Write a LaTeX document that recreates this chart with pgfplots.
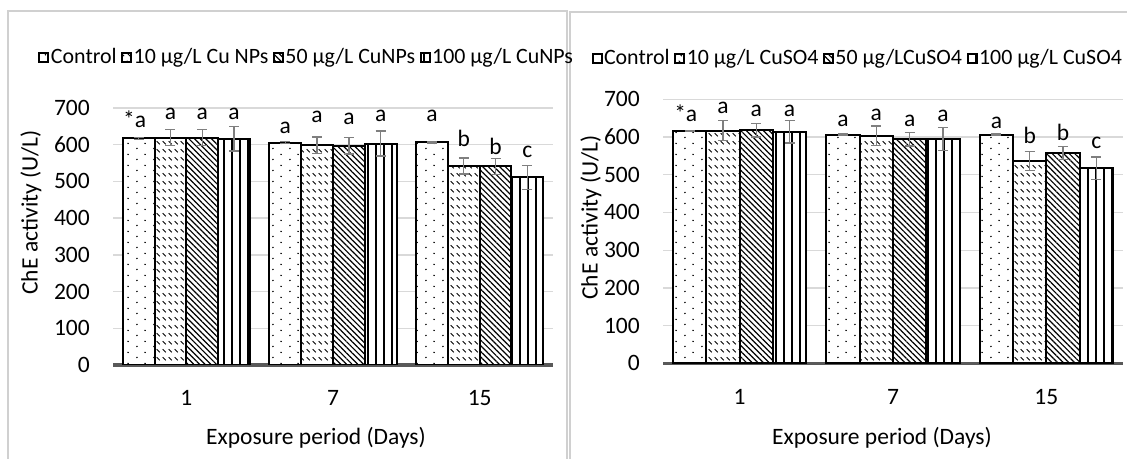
\documentclass[border=0pt]{standalone}
\usepackage{fontspec}
\setmainfont{Carlito}
\usepackage{pgfplots}
\usepackage{pgfplotstable}
\pgfplotsset{compat=1.18}
\usetikzlibrary{patterns,patterns.meta}

\definecolor{gridgray}{HTML}{D9D9D9}
\definecolor{axisgray}{HTML}{595959}
\definecolor{errgray}{HTML}{7F7F7F}
\definecolor{framegray}{HTML}{D0D0D0}

\newcommand\axfont{\fontsize{23.5bp}{28bp}\selectfont}
\newcommand\legfont{\fontsize{21.9bp}{26bp}\selectfont}

% staggered dots (control)
\tikzdeclarepattern{
  name=sparsedots,
  type=uncolored,
  bottom left={(0bp,0bp)},
  top right={(16.6bp,11bp)},
  tile size={(16.6bp,11bp)},
  code={\fill (4bp,2.75bp) circle (0.9bp); \fill (12.3bp,8.25bp) circle (0.9bp);}
}
% short dashed downward diagonal (10 ug/L)
\tikzdeclarepattern{
  name=dashdiag,
  type=uncolored,
  bottom left={(0bp,0bp)},
  top right={(6bp,8bp)},
  tile size={(6bp,8bp)},
  code={\draw[line width=1bp] (0.8bp,6.6bp) -- (4.4bp,3bp);}
}

% ChE activity, Cu NPs
\pgfplotstableread{
x c ce n10 n10e n50 n50e n100 n100e
0 617 2 619 22 619 22 616 33
1 606 2 599 22 597 22 603 34
2 607 2 542 22 541 22 511 33
}\nanodata

% ChE activity, CuSO4
\pgfplotstableread{
x c ce s10 s10e s50 s50e s100 s100e
0 616 2 617 26 618 18 614 30
1 606 2 603 26 594 18 595 30
2 606 2 537 25 557 17 517 30
}\saltdata

\tikzset{lab/.style={font=\axfont, anchor=base, inner sep=0pt}}

\pgfplotsset{
  chestyle/.style={
    scale only axis,
    ybar=0pt, bar width=0.217,
    xmin=-0.5, xmax=2.5, ymin=0, ymax=700,
    ytick={0,100,...,700},
    xtick={0,1,2}, xticklabels={1,7,15},
    ymajorgrids, grid style={gridgray, line width=1.3bp},
    axis x line*=bottom, axis y line*=left,
    x axis line style={axisgray, line width=3bp, -},
    y axis line style={draw=none},
    major tick length=0pt, tick style={draw=none},
    ticklabel style={font=\axfont},
    /pgf/number format/assume math mode=true,
    yticklabel style={anchor=east, inner sep=0pt, xshift=-23bp},
    xticklabel style={anchor=north, inner sep=0pt, yshift=-25.5bp},
    error bars/y dir=both, error bars/y explicit,
    error bars/error bar style={errgray, line width=1.3bp},
    error bars/error mark options={rotate=90, errgray, mark size=5bp, line width=1.3bp},
    legend columns=4,
    legend style={draw=none, fill=none, inner sep=0pt, outer sep=0pt, font=\legfont,
      nodes={inner sep=0pt},
      /tikz/every odd column/.append style={column sep=2bp},
      /tikz/every even column/.append style={column sep=5bp}},
    legend image code/.code={\draw[#1, line width=1bp] (0bp,-4.5bp) rectangle (9bp,4.5bp);},
  },
  barC/.style={draw=black, line width=2bp, preaction={fill=white}, pattern=sparsedots},
  barA/.style={draw=black, line width=2bp, preaction={fill=white}, pattern=dashdiag},
  barB/.style={draw=black, line width=2bp, preaction={fill=white}, pattern={Lines[angle=-45,distance=4bp,line width=1.2bp]}},
  barD/.style={draw=black, line width=2bp, preaction={fill=white}, pattern={Lines[angle=90,distance=8bp,line width=1.4bp]}},
}

\begin{document}
\begin{tikzpicture}
\useasboundingbox (0,0) rectangle (1127bp,459bp);
\draw[framegray, line width=1.5bp] (8bp,0) -- (8bp,448bp) -- (567bp,448bp) -- (567bp,0);
\draw[framegray, line width=1.5bp] (570bp,0) -- (570bp,447bp) -- (1127bp,447bp);

% left panel: Cu NPs
\begin{axis}[chestyle,
    at={(113bp,94bp)}, anchor=south west,
    width=440bp, height=257bp,
    legend style={at={(axis description cs:-0.1682,1.1984)}, anchor=west}]
  \addplot[barC] table[x=x, y=c, y error=ce] {\nanodata};
  \addplot[barA] table[x=x, y=n10, y error=n10e] {\nanodata};
  \addplot[barB] table[x=x, y=n50, y error=n50e] {\nanodata};
  \addplot[barD] table[x=x, y=n100, y error=n100e] {\nanodata};
  \legend{Control, 10 µg/L Cu NPs, 50 µg/L CuNPs, 100 µg/L CuNPs}
  \node[lab, xshift=-4bp] at (axis cs:-0.3255,648) {*a};
  \node[lab] at (axis cs:-0.1085,669) {a};
  \node[lab] at (axis cs:0.1085,669) {a};
  \node[lab] at (axis cs:0.3255,669) {a};
  \node[lab] at (axis cs:0.6745,631) {a};
  \node[lab] at (axis cs:0.8915,660) {a};
  \node[lab] at (axis cs:1.1085,654) {a};
  \node[lab] at (axis cs:1.3255,663) {a};
  \node[lab] at (axis cs:1.6745,663) {a};
  \node[lab] at (axis cs:1.8915,595) {b};
  \node[lab] at (axis cs:2.1085,574) {b};
  \node[lab] at (axis cs:2.3255,566) {c};
\end{axis}

% right panel: CuSO4
\begin{axis}[chestyle,
    at={(663bp,95.7bp)}, anchor=south west,
    width=460bp, height=264bp,
    legend style={at={(axis description cs:-0.1543,1.1564)}, anchor=west}]
  \addplot[barC] table[x=x, y=c, y error=ce] {\saltdata};
  \addplot[barA] table[x=x, y=s10, y error=s10e] {\saltdata};
  \addplot[barB] table[x=x, y=s50, y error=s50e] {\saltdata};
  \addplot[barD] table[x=x, y=s100, y error=s100e] {\saltdata};
  \legend{Control, 10 µg/L CuSO4, 50 µg/LCuSO4, 100 µg/L CuSO4}
  \node[lab, xshift=-4bp] at (axis cs:-0.3255,640) {*a};
  \node[lab] at (axis cs:-0.1085,663) {a};
  \node[lab] at (axis cs:0.1085,655) {a};
  \node[lab] at (axis cs:0.3255,654) {a};
  \node[lab] at (axis cs:0.6745,627) {a};
  \node[lab] at (axis cs:0.8915,645) {a};
  \node[lab] at (axis cs:1.1085,627) {a};
  \node[lab] at (axis cs:1.3255,640) {a};
  \node[lab] at (axis cs:1.6745,623) {a};
  \node[lab] at (axis cs:1.8915,583) {b};
  \node[lab] at (axis cs:2.1085,592) {b};
  \node[lab] at (axis cs:2.3255,570) {c};
\end{axis}

% axis titles
\node[font=\axfont, rotate=90] at (31bp,246.5bp) {ChE activity (U/L)};
\node[font=\axfont, rotate=90] at (591bp,241.5bp) {ChE activity (U/L)};
\node[font=\axfont] at (316bp,21bp) {Exposure period (Days)};
\node[font=\axfont] at (882bp,21bp) {Exposure period (Days)};
\end{tikzpicture}
\end{document}
